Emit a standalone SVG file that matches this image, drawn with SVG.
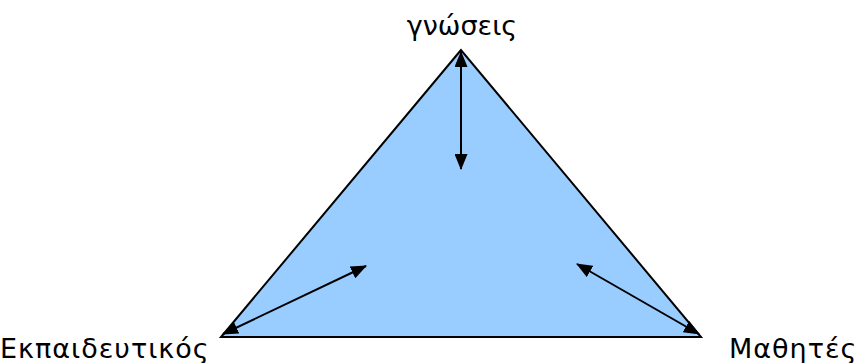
<svg xmlns="http://www.w3.org/2000/svg" width="858" height="363" viewBox="0 0 858 363">
<style>
.lbl{font-family:"Comic Sans MS","DejaVu Sans","Noto Sans",sans-serif;font-size:27px;fill:#000}
.wide{letter-spacing:1px}
.conn{stroke:#000;stroke-width:2;fill:none;marker-start:url(#ah);marker-end:url(#ah)}
</style>
<defs>
<marker id="ah" viewBox="0 0 16 13" refX="15" refY="6.5" markerWidth="16" markerHeight="13" markerUnits="userSpaceOnUse" orient="auto-start-reverse">
<path d="M0,0 L16,6.5 L0,13 Z" fill="#000"/>
</marker>
</defs>
<rect width="858" height="363" fill="#fff"/>
<g id="triangle">
<polygon points="461,50 221,337 701,337" fill="#99ccff" stroke="#000" stroke-width="2"/>
</g>
<g id="node-gnoseis"><text class="lbl" x="462" y="35" text-anchor="middle">γνώσεις</text></g>
<g id="node-ekpaideutikos"><text class="lbl wide" x="0" y="358">Εκπαιδευτικός</text></g>
<g id="node-mathites"><text class="lbl wide" x="729" y="358">Μαθητές</text></g>
<g id="connectors">
<line class="conn" x1="223" y1="334" x2="366" y2="266"/>
<line class="conn" x1="461" y1="52" x2="461" y2="169"/>
<line class="conn" x1="699" y1="334" x2="577" y2="264"/>
</g>
</svg>
